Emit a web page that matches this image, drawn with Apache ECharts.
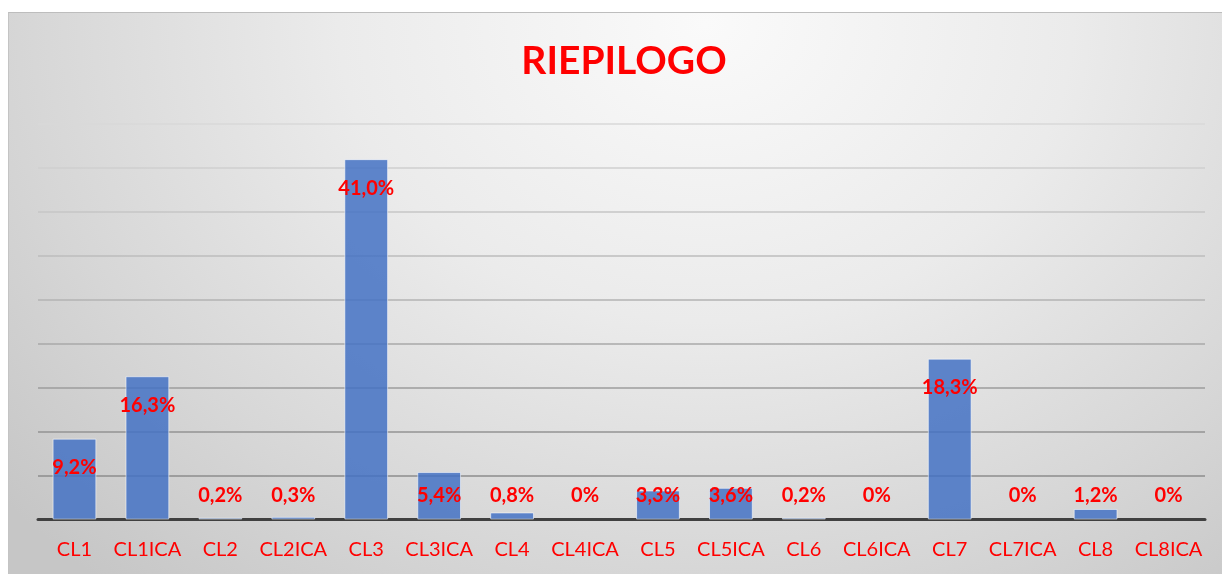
<!DOCTYPE html>
<html>
<head>
<meta charset="utf-8">
<script src="https://cdn.jsdelivr.net/npm/echarts@6/dist/echarts.min.js"></script>
<style>
  html, body { margin: 0; padding: 0; background: #fff; }
  #wrap { position: relative; width: 1222px; height: 574px; overflow: hidden; }
  #bg {
    position: absolute; left: 8px; top: 12px; width: 1222px; height: 570px;
    border-top: 1px solid #bdbdbd; border-left: 1px solid #c4c4c4;
    background: radial-gradient(ellipse 75% 130% at 57% 2%, #fafafa 0%, #ebebeb 40%, #d6d6d6 75%, #c6c6c6 100%);
  }
  #chart { position: absolute; left: 0; top: 0; width: 1222px; height: 574px; }
</style>
</head>
<body>
<div id="wrap">
  <div id="bg"></div>
  <div id="chart"></div>
</div>
<script>
  const categories = ['CL1', 'CL1ICA', 'CL2', 'CL2ICA', 'CL3', 'CL3ICA', 'CL4', 'CL4ICA',
    'CL5', 'CL5ICA', 'CL6', 'CL6ICA', 'CL7', 'CL7ICA', 'CL8', 'CL8ICA'];
  const values = [9.2, 16.3, 0.2, 0.3, 41.0, 5.4, 0.8, 0, 3.3, 3.6, 0.2, 0, 18.3, 0, 1.2, 0];
  const gridColors = ['#7a7a7a', '#8c8c8c', '#939393', '#9d9d9d', '#a8a8a8', '#b3b3b3',
    '#bdbdbd', '#c6c6c6', '#cfcfcf', '#d8d8d8'];

  const red = '#ff0000';
  const fmt = (v) => (v === 0 ? '0%' : v.toFixed(1).replace('.', ',') + '%');

  // tall bars carry the label inside the top, short ones keep it just above the axis
  const barData = values.map((v) => ({
    value: v,
    itemStyle: v === 0 ? { borderWidth: 0, color: 'transparent' } : undefined,
    label: v >= 6
      ? { position: 'insideTop', distance: 19 }
      : { position: 'insideBottom', distance: 14 },
  }));

  const myChart = echarts.init(document.getElementById('chart'));
  myChart.setOption({
    animation: false,
    title: {
      text: 'RIEPILOGO',
      left: 619,
      top: 37,
      textAlign: 'center',
      textStyle: { color: red, fontFamily: 'Lato', fontWeight: 'bold', fontSize: 39 },
    },
    grid: { left: 38, right: 17, top: 124, bottom: 54.5 },
    xAxis: {
      type: 'category',
      data: categories,
      axisTick: { show: false },
      axisLine: { lineStyle: { color: '#404040', width: 3 } },
      axisLabel: { color: red, fontFamily: 'Lato', fontSize: 20, margin: 20, interval: 0 },
    },
    yAxis: {
      type: 'value',
      min: 0,
      max: 45,
      interval: 5,
      axisLabel: { show: false },
      axisLine: { show: false },
      axisTick: { show: false },
      splitLine: { lineStyle: { color: gridColors, width: 1.5 } },
    },
    series: [
      {
        type: 'bar',
        data: barData,
        barWidth: '60%',
        itemStyle: {
          color: 'rgba(68,114,196,0.85)',
          borderColor: 'rgba(255,255,255,0.55)',
          borderWidth: 1,
        },
        label: {
          show: true,
          color: red,
          fontFamily: 'Lato',
          fontWeight: 'bold',
          fontSize: 20,
          formatter: (p) => fmt(p.value),
        },
      },
    ],
  });
</script>
</body>
</html>
